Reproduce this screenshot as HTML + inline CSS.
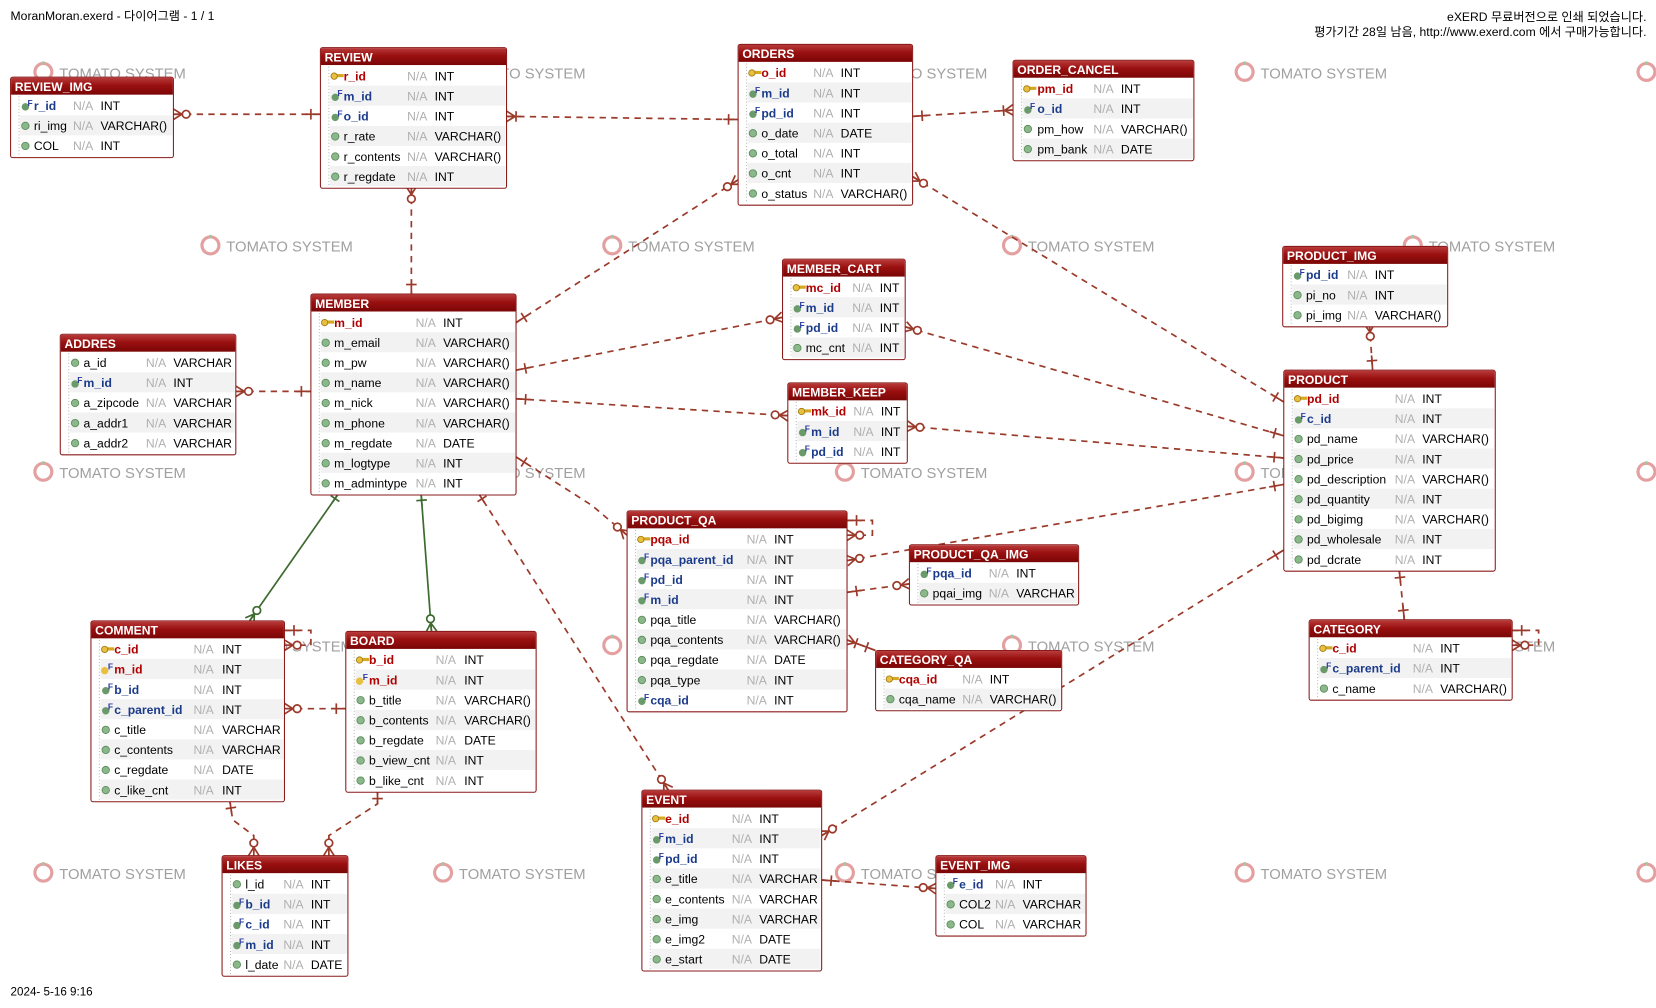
<!DOCTYPE html>
<html><head><meta charset="utf-8">
<style>
html,body{margin:0;padding:0;background:#fff;width:1656px;height:1008px;overflow:hidden}
svg{display:block}
text{font-family:"Liberation Sans","Noto Sans CJK KR",sans-serif}
</style></head><body>
<svg id="s" width="1656" height="1008" viewBox="0 0 1566 953" preserveAspectRatio="none" xmlns="http://www.w3.org/2000/svg">
<defs>
<linearGradient id="hg" x1="0" y1="0" x2="0" y2="1">
<stop offset="0" stop-color="#b83a3a"/><stop offset="0.45" stop-color="#9a1010"/><stop offset="1" stop-color="#7a0606"/>
</linearGradient>
</defs>
<text x="10" y="19" font-size="11.5" fill="#000">MoranMoran.exerd - 다이어그램 - 1 / 1</text>
<text x="1557" y="20" font-size="11.5" fill="#000" text-anchor="end">eXERD 무료버전으로 인쇄 되었습니다.</text>
<text x="1557" y="34" font-size="11.5" fill="#000" text-anchor="end">평가기간 28일 남음, http://www.exerd.com 에서 구매가능합니다.</text>
<text x="10" y="941" font-size="11" fill="#000">2024- 5-16  9:16</text>
<g id="wm"></g>
<g id="ln"></g>
<g id="tb"></g>
</svg>
<script>
var NS="http://www.w3.org/2000/svg";
function el(p,t,a,txt){var e=document.createElementNS(NS,t);for(var k in a)e.setAttribute(k,a[k]);if(txt!==undefined)e.textContent=txt;p.appendChild(e);return e;}
var wm=document.getElementById('wm'),ln=document.getElementById('ln'),tb=document.getElementById('tb');
[[68,[32,410,790,1168,1548]],[232,[190,570,948,1327]],[446,[32,410,790,1168,1548]],[610,[190,570,948,1327]],[825,[32,410,790,1168,1548]]].forEach(function(r){
 r[1].forEach(function(x){
  el(wm,'circle',{cx:x+9,cy:r[0],r:8,fill:'none',stroke:'#e4a0a0','stroke-width':3});
  el(wm,'rect',{x:x+8,y:r[0]-10,width:2,height:3,fill:'#9c9'});
  el(wm,'text',{x:x+24,y:r[0]+6,'font-size':14,fill:'#a0a0a0'},'TOMATO SYSTEM');
 });
});
var C='#9b3a2a';
function L(pts,dash,col){el(ln,'polyline',{points:pts.map(function(p){return p.join(',')}).join(' '),fill:'none',stroke:col||C,'stroke-width':1.6,'stroke-dasharray':dash===false?'none':'6,5'});}
function mark(p,q,type,col){
 col=col||C;var dx=q[0]-p[0],dy=q[1]-p[1],l=Math.sqrt(dx*dx+dy*dy);dx/=l;dy/=l;var nx=-dy,ny=dx;
 function P(d,o){return [p[0]+dx*d+nx*o,p[1]+dy*d+ny*o];}
 function seg(a,b){el(ln,'line',{x1:a[0],y1:a[1],x2:b[0],y2:b[1],stroke:col,'stroke-width':1.6});}
 seg(P(0,0),P(14,0));
 if(type=='one'){seg(P(9,-5),P(9,5));}
 else{seg(P(0,-5),P(8,0));seg(P(0,5),P(8,0));
  if(type=='m0'){var c=P(12,0);el(ln,'circle',{cx:c[0],cy:c[1],r:3.6,fill:'#fff',stroke:col,'stroke-width':1.6});}
  else seg(P(9,-5),P(9,5));}
}
function R(a,b,ta,tb2,solid){var col=solid?'#3d6a2e':C;L([a,b],solid?false:true,col);mark(a,b,ta,col);mark(b,a,tb2,col);}
R([164,108],[303,108],'m0','one');
R([479,110],[698,113],'m1','one');
R([863,110],[958,104],'one','m1');
R([389,176],[389,278],'m0','one');
R([488,305],[698,170],'one','m0');
R([863,167],[1214,380],'m0','one');
R([488,350],[740,300],'one','m0');
R([856,309],[1214,412],'m0','one');
R([488,377],[745,393],'one','m0');
R([858,403],[1214,433],'m0','one');
R([223,370],[294,370],'m0','one');
L([[488,432],[560,478],[593,506]]);mark([593,506],[560,478],'m0');mark([488,432],[560,478],'one');
L([[801,492],[825,492],[825,506],[801,506]]);mark([801,492],[825,492],'one');mark([801,506],[825,506],'m0');
R([801,530],[1214,458],'m0','one');
R([801,560],[860,552],'one','m0');
R([801,605],[828,615],'m1','one');
R([1295,306],[1298,350],'m0','one');
R([1323,537],[1328,586],'one','one');
L([[1430,596],[1455,596],[1455,610],[1430,610]]);mark([1430,596],[1455,596],'one');mark([1430,610],[1455,610],'m0');
R([322,464],[236,587],'one','m0',true);
R([398,464],[408,597],'one','m0',true);
R([451,464],[632,747],'one','m0');
L([[269,596],[294,596],[294,610],[269,610]]);mark([269,596],[294,596],'one');mark([269,610],[294,610],'m0');
R([269,670],[327,670],'m0','one');
L([[217,755],[220,775],[240,790],[240,809]]);mark([217,755],[220,775],'one');mark([240,809],[240,790],'m0');
L([[357,746],[357,760],[311,790],[311,809]]);mark([357,746],[357,760],'one');mark([311,809],[311,790],'m0');
R([777,790],[1214,520],'m0','one');
R([777,832],[885,840],'one','m0');
function T(name,x,y,w,cn,cna,ct,rows){
 var h=17+rows.length*19+2;
 el(tb,'rect',{x:x,y:y,width:w,height:h,rx:2,fill:'#fff',stroke:'#8a1a1a','stroke-width':1});
 el(tb,'rect',{x:x+0.5,y:y+0.5,width:w-1,height:16,fill:'url(#hg)'});
 el(tb,'text',{x:x+4,y:y+13,'font-size':11.5,'font-weight':'bold',fill:'#fff'},name);
 rows.forEach(function(r,i){
  var ry=y+17+i*19;
  if(i%2==1)el(tb,'rect',{x:x+9,y:ry,width:w-10,height:19,fill:'#f2f2f2'});
  var k=r[0],cy=ry+10;
  if(k=='p'){el(tb,'rect',{x:x+14,y:cy-2,width:8,height:3,fill:'#d4a820'});el(tb,'circle',{cx:x+13,cy:cy,r:3,fill:'#e8c040',stroke:'#a07810','stroke-width':0.8});}
  else if(k=='f'){el(tb,'circle',{cx:x+14,cy:cy+1,r:3.5,fill:'#6a9a6a'});el(tb,'text',{x:x+16,y:cy+0,'font-size':8,'font-weight':'bold',fill:'#2a3aa0'},'F');}
  else if(k=='pf'){el(tb,'circle',{cx:x+13,cy:cy+1,r:3.5,fill:'#e8c040'});el(tb,'text',{x:x+16,y:cy+0,'font-size':8,'font-weight':'bold',fill:'#2a3aa0'},'F');}
  else el(tb,'circle',{cx:x+14,cy:cy,r:3.5,fill:'#8ab88a',stroke:'#5a8a5a','stroke-width':0.8});
  var col=k=='p'?'#b00000':(k=='f'||k=='pf')?(k=='pf'?'#b00000':'#1a3a8a'):'#000';
  el(tb,'text',{x:cn,y:ry+14,'font-size':11.5,'font-weight':(k=='a')?'normal':'bold',fill:col},r[1]);
  el(tb,'text',{x:cna,y:ry+14,'font-size':11.5,fill:'#b0b0b0'},'N/A');
  el(tb,'text',{x:ct,y:ry+14,'font-size':11.5,fill:'#000'},r[2]);
 });
 el(tb,'line',{x1:x+8,y1:y+18,x2:x+8,y2:y+h-2,stroke:'#bbb','stroke-dasharray':'1,2'});
}
var a='a',p='p',f='f';
T('REVIEW_IMG',10,73,154,32,69,95,[[f,'r_id','INT'],[a,'ri_img','VARCHAR()'],[a,'COL','INT']]);
T('REVIEW',303,45,176,325,385,411,[[p,'r_id','INT'],[f,'m_id','INT'],[f,'o_id','INT'],[a,'r_rate','VARCHAR()'],[a,'r_contents','VARCHAR()'],[a,'r_regdate','INT']]);
T('ORDERS',698,42,165,720,769,795,[[p,'o_id','INT'],[f,'m_id','INT'],[f,'pd_id','INT'],[a,'o_date','DATE'],[a,'o_total','INT'],[a,'o_cnt','INT'],[a,'o_status','VARCHAR()']]);
T('ORDER_CANCEL',958,57,171,981,1034,1060,[[p,'pm_id','INT'],[f,'o_id','INT'],[a,'pm_how','VARCHAR()'],[a,'pm_bank','DATE']]);
T('PRODUCT_IMG',1213,233,156,1235,1274,1300,[[f,'pd_id','INT'],[a,'pi_no','INT'],[a,'pi_img','VARCHAR()']]);
T('MEMBER_CART',740,245,116,762,806,832,[[p,'mc_id','INT'],[f,'m_id','INT'],[f,'pd_id','INT'],[a,'mc_cnt','INT']]);
T('MEMBER_KEEP',745,362,113,767,807,833,[[p,'mk_id','INT'],[f,'m_id','INT'],[f,'pd_id','INT']]);
T('MEMBER',294,278,194,316,393,419,[[p,'m_id','INT'],[a,'m_email','VARCHAR()'],[a,'m_pw','VARCHAR()'],[a,'m_name','VARCHAR()'],[a,'m_nick','VARCHAR()'],[a,'m_phone','VARCHAR()'],[a,'m_regdate','DATE'],[a,'m_logtype','INT'],[a,'m_admintype','INT']]);
T('ADDRES',57,316,166,79,138,164,[[a,'a_id','VARCHAR'],[f,'m_id','INT'],[a,'a_zipcode','VARCHAR'],[a,'a_addr1','VARCHAR'],[a,'a_addr2','VARCHAR']]);
T('PRODUCT',1214,350,200,1236,1319,1345,[[p,'pd_id','INT'],[f,'c_id','INT'],[a,'pd_name','VARCHAR()'],[a,'pd_price','INT'],[a,'pd_description','VARCHAR()'],[a,'pd_quantity','INT'],[a,'pd_bigimg','VARCHAR()'],[a,'pd_wholesale','INT'],[a,'pd_dcrate','INT']]);
T('PRODUCT_QA',593,483,208,615,706,732,[[p,'pqa_id','INT'],[f,'pqa_parent_id','INT'],[f,'pd_id','INT'],[f,'m_id','INT'],[a,'pqa_title','VARCHAR()'],[a,'pqa_contents','VARCHAR()'],[a,'pqa_regdate','DATE'],[a,'pqa_type','INT'],[f,'cqa_id','INT']]);
T('PRODUCT_QA_IMG',860,515,160,882,935,961,[[f,'pqa_id','INT'],[a,'pqai_img','VARCHAR']]);
T('CATEGORY_QA',828,615,176,850,910,936,[[p,'cqa_id','INT'],[a,'cqa_name','VARCHAR()']]);
T('CATEGORY',1238,586,192,1260,1336,1362,[[p,'c_id','INT'],[f,'c_parent_id','INT'],[a,'c_name','VARCHAR()']]);
T('COMMENT',86,587,183,108,183,210,[[p,'c_id','INT'],['pf','m_id','INT'],[f,'b_id','INT'],[f,'c_parent_id','INT'],[a,'c_title','VARCHAR'],[a,'c_contents','VARCHAR'],[a,'c_regdate','DATE'],[a,'c_like_cnt','INT']]);
T('BOARD',327,597,180,349,412,439,[[p,'b_id','INT'],['pf','m_id','INT'],[a,'b_title','VARCHAR()'],[a,'b_contents','VARCHAR()'],[a,'b_regdate','DATE'],[a,'b_view_cnt','INT'],[a,'b_like_cnt','INT']]);
T('EVENT',607,747,170,629,692,718,[[p,'e_id','INT'],[f,'m_id','INT'],[f,'pd_id','INT'],[a,'e_title','VARCHAR'],[a,'e_contents','VARCHAR'],[a,'e_img','VARCHAR'],[a,'e_img2','DATE'],[a,'e_start','DATE']]);
T('EVENT_IMG',885,809,142,907,941,967,[[f,'e_id','INT'],[a,'COL2','VARCHAR'],[a,'COL','VARCHAR']]);
T('LIKES',210,809,119,232,268,294,[[a,'l_id','INT'],[f,'b_id','INT'],[f,'c_id','INT'],[f,'m_id','INT'],[a,'l_date','DATE']]);
</script>
</body></html>
